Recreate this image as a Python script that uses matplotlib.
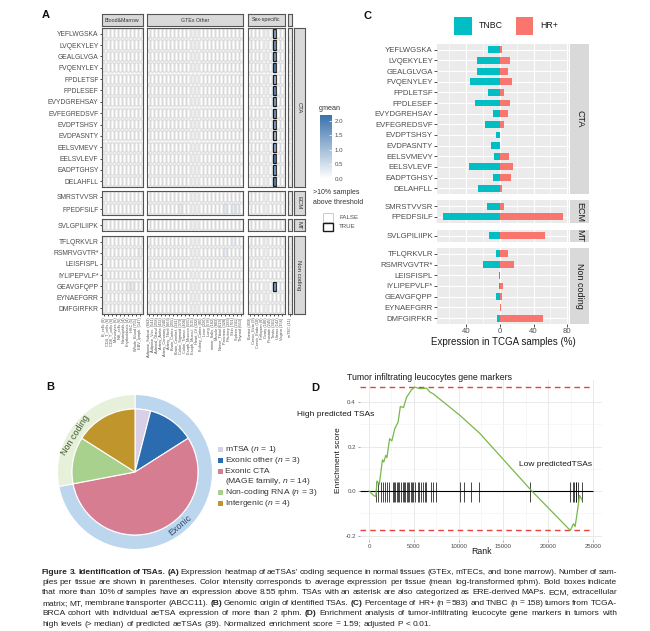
import numpy as np
import matplotlib
matplotlib.use("Agg")
import matplotlib.pyplot as plt
from matplotlib.patches import Rectangle
from matplotlib.colors import LinearSegmentedColormap

W, H = 650, 631
plt.rcParams['font.family'] = ['Liberation Sans', 'DejaVu Sans']
plt.rcParams['mathtext.fontset'] = 'custom'
plt.rcParams['mathtext.it'] = 'Liberation Sans:italic'
plt.rcParams['mathtext.rm'] = 'Liberation Sans'

# ---------------- data ----------------
cta_peps = ["YEFLWGSKA", "LVQEKYLEY", "GEALGLVGA", "FVQENYLEY", "FPDLETSF", "FPDLESEF",
            "EVYDGREHSAY", "EVFEGREDSVF", "EVDPTSHSY", "EVDPASNTY", "EELSVMEVY",
            "EELSVLEVF", "EADPTGHSY", "DELAHFLL"]
ecm_peps = ["SMRSTVVSR", "FPEDFSILF"]
mt_peps = ["SVLGPILIIPK"]
nc_peps = ["TFLQRKVLR", "RSMRVGVTR*", "LEISFISPL", "IYLIPEPVLF*", "GEAVGFQPP",
           "EYNAEFGRR", "DMFGIRFKR"]
group_names = ["CTA", "ECM", "MT", "Non coding"]

blood_tissues = ["B_cells (6)", "CD4_T_cells (6)", "CD8_T_cells (6)", "Monocytes (6)",
                 "NK_cells (6)", "Neutrophils (4)", "Erythroblasts (4)", "HSC (5)",
                 "Whole_Blood (755)", "EBV_lymph. (147)"]
gtex_tissues = ["Adipose_Subcut. (663)", "Adipose_Visc. (541)", "Adrenal_Gland (258)",
                "Artery_Aorta (432)", "Artery_Coronary (240)", "Artery_Tibial (663)",
                "Brain_Cortex (255)", "Brain_Cerebel. (241)", "Colon_Sigmoid (373)",
                "Colon_Transv. (406)", "Esoph_Mucosa (555)", "Esoph_Muscul. (515)",
                "Heart_LV (432)", "Kidney_Cortex (85)", "Liver (226)", "Lung (578)",
                "minor_Saliv. (162)", "Muscle (803)", "Nerve_Tibial (619)",
                "Pancreas (328)", "Pituitary (283)", "Skin (701)", "Spleen (241)",
                "Thyroid (653)"]
sex_tissues = ["Breast (459)", "Cervix_Ecto (9)", "Cervix_Endo (10)", "Fallopian (9)",
               "Ovary (180)", "Prostate (245)", "Testis (361)", "Uterus (142)", "Vagina (156)"]
mtec_tissues = ["mTEC (11)"]
col_group_names = ["Blood&Marrow", "GTEx Other", "Sex-specific", ""]

# mean log expression in testis (bold boxes = >10% samples above threshold)
testis_peps = cta_peps + ["GEAVGFQPP"]
testis_gmean = [1.3, 1.6, 1.5, 2.0, 1.1, 1.8, 1.4, 1.6, 1.4, 1.0, 1.3, 2.1, 1.5, 1.9, 1.5]
low_expr = [("FPEDFSILF", "Colon_Sigmoid (373)", 0.25), ("FPEDFSILF", "Pancreas (328)", 0.3),
            ("FPEDFSILF", "Skin (701)", 0.25), ("FPEDFSILF", "Spleen (241)", 0.2),
            ("RSMRVGVTR*", "Pancreas (328)", 0.25), ("TFLQRKVLR", "Skin (701)", 0.2),
            ("GEAVGFQPP", "HSC (5)", 0.25), ("GEAVGFQPP", "Erythroblasts (4)", 0.2),
            ("RSMRVGVTR*", "EBV_lymph. (147)", 0.2)]

# panel C: % of TCGA tumours expressing each aeTSA
tnbc_pct = [14.5, 27.5, 27.5, 35, 14.5, 29, 8, 17.6, 4, 10.6, 6.7, 36, 8.2, 26,
            15, 67.5, 12.5, 4.7, 20.4, 1.2, 0.4, 4.7, 0.3, 3.1]
hr_pct = [2.4, 12, 9.4, 15, 5, 12, 9.4, 5, 0.6, 0.5, 11.4, 15.7, 13.7, 2.7,
          5.5, 75, 53.7, 9.4, 16.5, 0.4, 4.3, 2.4, 1.2, 51]
c_ticks = [-40, 0, 40, 80]
c_tick_labels = ["40", "0", "40", "80"]

# panel B: genomic origin
origin_labels = ["mTSA ($n$ = 1)", "Exonic other ($n$ = 3)", "Exonic CTA\n(MAGE family, $n$ = 14)",
                 "Non-coding RNA ($n$ = 3)", "Intergenic ($n$ = 4)"]
origin_counts = [1, 3, 14, 3, 4]
origin_colors = ["#d9d0e8", "#2b6cb0", "#d67d92", "#a9d18e", "#c0952b"]
ring_labels = ["Exonic", "Non coding"]
ring_counts = [18, 7]
ring_colors = ["#bcd6ee", "#e6f0da"]

# panel D: running enrichment score
gsea_rank = [0, 520, 750, 900, 1150, 1500, 1650, 1870, 2000, 2300, 2550, 2870, 3250, 3500,
             3850, 4180, 4740, 5110, 5670, 6420, 6790, 7160, 10150, 12390, 18170, 22460,
             22830, 23000, 23210, 23500, 23770]
gsea_es = [0, -0.02, -0.025, 0.045, 0.03, 0.14, 0.13, 0.16, 0.15, 0.235, 0.225, 0.28, 0.31,
           0.38, 0.375, 0.42, 0.455, 0.467, 0.46, 0.462, 0.445, 0.437, 0.34, 0.258, 0.0,
           -0.177, -0.147, -0.16, -0.105, -0.02, -0.04]
hit_ranks = [800, 1060, 1300, 1520, 1750, 1980, 2280, 2650, 2800, 2950, 3100, 3250, 3400,
             3580, 3770, 3950, 4070, 4220, 4370, 4520, 4700, 4810, 4960, 5180, 5480, 5630,
             5780, 6000, 6230, 6310, 6940, 7130, 7430, 10150, 10600, 11340, 12310, 18000,
             22390, 22760, 22910, 23060, 23130, 23280, 23760]


def px(x0, y0, x1, y1):
    return [x0 / W, 1 - y1 / H, (x1 - x0) / W, (y1 - y0) / H]


fig = plt.figure(figsize=(6.5, 6.31), dpi=100)
gray_txt = "#4d4d4d"

# ---------------- panel A: heatmap ----------------
row_groups = [cta_peps, ecm_peps, mt_peps, nc_peps]
col_groups = [blood_tissues, gtex_tissues, sex_tissues, mtec_tissues]
a_rows_px = [(28, 187), (191, 215), (219, 231), (236, 314)]
a_cols_px = [(102, 142.5), (146.5, 243.5), (247.5, 284.5), (288, 292)]
cmap = LinearSegmentedColormap.from_list("gmean", ["#ffffff", "#3a73ad"])
vmax = 2.2

gmean = {}
for p, v in zip(testis_peps, testis_gmean):
    gmean[(p, "Testis (361)")] = v
for p, t, v in low_expr:
    gmean[(p, t)] = v
bold = set((p, "Testis (361)") for p in testis_peps)

for gi, peps in enumerate(row_groups):
    for ci, tissues in enumerate(col_groups):
        x0, x1 = a_cols_px[ci]
        y0, y1 = a_rows_px[gi]
        ax = fig.add_axes(px(x0, y0, x1, y1))
        ax.set_xlim(0, len(tissues))
        ax.set_ylim(len(peps), 0)
        ax.set_facecolor("#f4f4f4")
        for i, p in enumerate(peps):
            for j, t in enumerate(tissues):
                v = gmean.get((p, t), 0.0)
                if (p, t) in bold:
                    ec, lw = "#1a1a1a", 0.9
                else:
                    ec, lw = "#ababab", 0.3
                ax.add_patch(Rectangle((j + 0.14, i + 0.1), 0.72, 0.8,
                                       facecolor=cmap(v / vmax), edgecolor=ec, lw=lw))
        for s in ax.spines.values():
            s.set_color("#555555")
            s.set_linewidth(0.8)
        if ci == 0:
            ax.set_yticks(np.arange(len(peps)) + 0.5)
            ax.set_yticklabels(peps, fontsize=4.9, color=gray_txt)
            ax.tick_params(axis="y", length=1.5, width=0.5, pad=1)
        else:
            ax.set_yticks([])
        if gi == len(row_groups) - 1:
            ax.set_xticks(np.arange(len(tissues)) + 0.5)
            ax.set_xticklabels(tissues, rotation=90, fontsize=2.8, color=gray_txt)
            ax.tick_params(axis="x", length=1.5, width=0.5, pad=1)
        else:
            ax.set_xticks([])
        if gi == 0:
            sa = fig.add_axes(px(x0, 14, x1, 26))
            sa.set_facecolor("#d9d9d9")
            sa.set_xticks([]); sa.set_yticks([])
            for s in sa.spines.values():
                s.set_color("#555555"); s.set_linewidth(0.8)
            sa.text(0.5, 0.5, col_group_names[ci], ha="center", va="center",
                    fontsize=3.8, color="#333333", transform=sa.transAxes)
    y0, y1 = a_rows_px[gi]
    sa = fig.add_axes(px(293.5, y0, 304.5, y1))
    sa.set_facecolor("#d9d9d9")
    sa.set_xticks([]); sa.set_yticks([])
    for s in sa.spines.values():
        s.set_color("#555555"); s.set_linewidth(0.8)
    sa.text(0.5, 0.5, group_names[gi], ha="center", va="center", rotation=-90,
            fontsize=4.3, color="#333333", transform=sa.transAxes)

# colourbar legend for A
cb = fig.add_axes(px(320, 115, 332, 179))
cb.imshow(np.linspace(vmax, 0, 200).reshape(-1, 1), cmap=cmap, vmin=0, vmax=vmax,
          aspect="auto", extent=(0, 1, 0, vmax))
cb.set_xticks([])
cb.yaxis.tick_right()
cb.set_yticks([0, 0.5, 1.0, 1.5, 2.0])
cb.set_yticklabels(["0.0", "0.5", "1.0", "1.5", "2.0"], fontsize=4.4, color=gray_txt)
cb.tick_params(axis="y", length=2, width=0.5, color="white", pad=2, direction="in")
for s in cb.spines.values():
    s.set_visible(False)

# ---------------- panel C: bars ----------------
c_rows_px = [(44, 194), (200, 223), (229.5, 242), (248, 324)]
start = 0
for gi, peps in enumerate(row_groups):
    n = len(peps)
    tn = tnbc_pct[start:start + n]
    hr = hr_pct[start:start + n]
    start += n
    y0, y1 = c_rows_px[gi]
    ax = fig.add_axes(px(437, y0, 569, y1))
    ypos = np.arange(n)
    ax.barh(ypos, [-v for v in tn], height=0.64, color="#00BFC4", zorder=2)
    ax.barh(ypos, hr, height=0.64, color="#F8766D", zorder=2)
    ax.set_xlim(-74.5, 82)
    ax.set_ylim(n - 0.45, -0.55)
    ax.set_facecolor("#ebebeb")
    ax.set_xticks(c_ticks)
    ax.set_xticks([-60, -20, 20, 60], minor=True)
    ax.grid(axis="x", which="major", color="white", lw=0.8)
    ax.grid(axis="x", which="minor", color="white", lw=0.4)
    ax.grid(axis="y", color="white", lw=0.8)
    ax.set_axisbelow(True)
    ax.set_yticks(ypos)
    ax.set_yticklabels(peps, fontsize=5.6, color=gray_txt)
    ax.tick_params(axis="y", length=2, width=0.6, color="#333333", pad=1)
    ax.tick_params(axis="x", which="minor", length=0)
    for s in ax.spines.values():
        s.set_visible(False)
    if gi == len(row_groups) - 1:
        ax.set_xticklabels(c_tick_labels, fontsize=5.6, color=gray_txt)
        ax.tick_params(axis="x", length=2, width=0.6, color="#333333", pad=1)
    else:
        ax.tick_params(axis="x", which="major", length=0, labelbottom=False)
    sa = fig.add_axes(px(570, y0, 589, y1))
    sa.set_facecolor("#d9d9d9")
    sa.set_xticks([]); sa.set_yticks([])
    for s in sa.spines.values():
        s.set_visible(False)
    sa.text(0.5, 0.5, group_names[gi], ha="center", va="center", rotation=-90,
            fontsize=6.5, color="#1a1a1a", transform=sa.transAxes)

# ---------------- panel B: pie ----------------
axb = fig.add_axes(px(55, 392, 215, 552))
axb.pie(ring_counts, radius=77.5, startangle=90, counterclock=False, colors=ring_colors,
        wedgeprops=dict(width=14.5, edgecolor="white", linewidth=0.8))
axb.pie(origin_counts, radius=63, startangle=90, counterclock=False, colors=origin_colors,
        wedgeprops=dict(edgecolor="white", linewidth=0.8))
axb.set_xlim(-80, 80)
axb.set_ylim(-80, 80)
ring_angles = [-50, 148]
ring_text_colors = ["#2f4f6f", "#3f5a2f"]
for lab, ang, col in zip(ring_labels, ring_angles, ring_text_colors):
    a = np.deg2rad(ang)
    axb.text(70 * np.cos(a), 70 * np.sin(a), lab, rotation=ang + 90 if ang < 0 else ang - 90,
             ha="center", va="center", fontsize=6.5, color=col, rotation_mode="anchor")

# ---------------- panel D: GSEA ----------------
axd = fig.add_axes(px(360, 380, 602, 540))
axd.set_xlim(-1004, 26004)
axd.set_ylim(-0.2202, 0.4989)
axd.set_xticks([0, 5000, 10000, 15000, 20000, 25000])
axd.set_yticks([-0.2, 0.0, 0.2, 0.4])
axd.set_xticks([2500, 7500, 12500, 17500, 22500], minor=True)
axd.set_yticks([-0.1, 0.1, 0.3], minor=True)
axd.set_yticklabels(["-0.2", "0.0", "0.2", "0.4"])
axd.grid(which="major", color="#e6e6e6", lw=0.6)
axd.grid(which="minor", color="#f2f2f2", lw=0.4)
axd.set_axisbelow(True)
axd.tick_params(which="major", labelsize=4.4, labelcolor=gray_txt, length=1.5, width=0.5,
                color="#888888", pad=1.5)
axd.tick_params(which="minor", length=0)
for s in axd.spines.values():
    s.set_visible(False)
axd.hlines([max(gsea_es), min(gsea_es)], -1004, 25000, colors="#e8413c", linestyles=(0, (4, 3)),
           lw=1.0, zorder=3)
axd.hlines(0, -1004, 25000, colors="black", lw=0.8, zorder=2)
axd.vlines(hit_ranks, -0.05, 0.04, colors="black", lw=0.5, zorder=2)
axd.plot(gsea_rank, gsea_es, color="#78b84a", lw=0.9, zorder=4)

# ---------------- overlay text ----------------
ov = fig.add_axes([0, 0, 1, 1])
ov.set_xlim(0, W)
ov.set_ylim(H, 0)
ov.axis("off")

for lab, x, y in [("A", 46, 15), ("B", 50, 387), ("C", 368, 16), ("D", 315, 388)]:
    ov.text(x, y, lab, fontsize=8, fontweight="bold", ha="center", va="center", color="#111111")

# A legend
ov.text(319, 108, "gmean", fontsize=5.2, color="#333333", va="center")
ov.text(313, 193, ">10% samples", fontsize=5.0, color="#333333", va="center")
ov.text(313, 202, "above threshold", fontsize=5.0, color="#333333", va="center")
ov.add_patch(Rectangle((323, 213), 10, 9, facecolor="white", edgecolor="#b5b5b5", lw=0.5))
ov.add_patch(Rectangle((323, 222.5), 10, 8, facecolor="white", edgecolor="#1a1a1a", lw=1.0))
ov.text(339, 217.5, "FALSE", fontsize=4.4, color=gray_txt, va="center")
ov.text(339, 227, "TRUE", fontsize=4.4, color=gray_txt, va="center")

# C legend + axis title
ov.add_patch(Rectangle((454, 17), 18, 18, facecolor="#00BFC4", edgecolor="none"))
ov.text(479, 26, "TNBC", fontsize=6.3, color="#1a1a1a", va="center")
ov.add_patch(Rectangle((516, 17), 17, 18, facecolor="#F8766D", edgecolor="none"))
ov.text(540, 26, "HR+", fontsize=6.3, color="#1a1a1a", va="center")
ov.text(503, 342, "Expression in TCGA samples (%)", fontsize=7, color="#1a1a1a",
        ha="center", va="center")

# B legend
leg_y = [449.5, 460.5, 471.5, 492.5, 503.5]
for lab, col, y in zip(origin_labels, origin_colors, leg_y):
    ov.add_patch(Rectangle((218, y - 2.5), 5, 5, facecolor=col, edgecolor="none"))
    for k, part in enumerate(lab.split("\n")):
        ov.text(225, y + 10 * k, part, fontsize=6.1, color="#333333", va="center")

# D texts
ov.text(347, 377, "Tumor infiltrating leucocytes gene markers", fontsize=6.3, color="#1a1a1a",
        va="center")
ov.text(297, 415, "High predicted TSAs", fontsize=6, color="#1a1a1a", va="center")
ov.text(519, 465, "Low predictedTSAs", fontsize=6, color="#1a1a1a", va="center")
ov.text(339, 460, "Enrichment score", fontsize=6, color="#1a1a1a", va="center", ha="center",
        rotation=90)
ov.text(482, 551, "Rank", fontsize=6.3, color="#1a1a1a", va="center", ha="center")

# ---------------- caption ----------------
caption = [
    [("Figure 3. Identification of TSAs.", True), ("(A)", True),
     ("Expression heatmap of aeTSAs' coding sequence in normal tissues (GTEx, mTECs, and bone marrow). Number of sam-", False)],
    [("ples per tissue are shown in parentheses. Color intensity corresponds to average expression per tissue (mean log-transformed rphm). Bold boxes indicate", False)],
    [("that more than 10% of samples have an expression above 8.55 rphm. TSAs with an asterisk are also categorized as ERE-derived MAPs. ECM, extracellular", False)],
    [("matrix; MT, membrane transporter (ABCC11).", False), ("(B)", True),
     ("Genomic origin of identified TSAs.", False), ("(C)", True),
     ("Percentage of HR+ (n = 583) and TNBC (n = 158) tumors from TCGA-", False)],
    [("BRCA cohort with individual aeTSA expression of more than 2 rphm.", False), ("(D)", True),
     ("Enrichment analysis of tumor-infiltrating leucocyte gene markers in tumors with", False)],
    [("high levels (> median) of predicted aeTSAs (39). Normalized enrichment score = 1.59; adjusted P < 0.01.", False)],
]
cap_y = [572, 582.4, 592.8, 603.2, 613.6, 624]
cap_size = 6.0
cap_font = ["Liberation Sans", "DejaVu Sans"]
renderer = fig.canvas.get_renderer()
for li, (segs, y) in enumerate(zip(caption, cap_y)):
    items = []
    for txt, b in segs:
        for word in txt.split():
            t = ov.text(0, y, word, fontsize=cap_size, fontweight="bold" if b else "normal",
                        va="center", ha="left", family=cap_font, color="#222222")
            items.append((t, t.get_window_extent(renderer=renderer).width))
    total = sum(w for _, w in items)
    space = cap_size * 100 / 72 * 0.26
    if li < len(caption) - 1:
        gap = max((617 - 42 - total) / (len(items) - 1), space * 0.5)
    else:
        gap = space
    x = 42
    for t, w in items:
        t.set_x(x)
        x += w + gap

fig.savefig("out.png", dpi=100, facecolor="white")
